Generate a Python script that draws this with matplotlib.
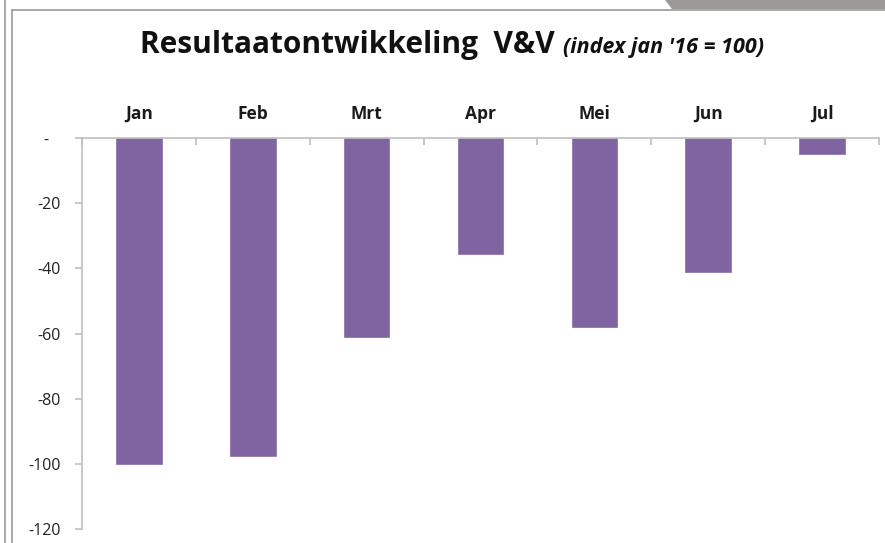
import matplotlib
matplotlib.use("Agg")
import matplotlib.pyplot as plt
from matplotlib.patches import Polygon
from matplotlib.lines import Line2D
import numpy as np

categories = ["Jan", "Feb", "Mrt", "Apr", "Mei", "Jun", "Jul"]
values = [-100, -97.5, -61, -35.5, -58, -41, -5]
yticks = [0, -20, -40, -60, -80, -100, -120]
ytick_labels = ["-   ", "-20", "-40", "-60", "-80", "-100", "-120"]

plt.rcParams['font.family'] = ['Open Sans', 'DejaVu Sans']

W, H = 885, 543
fig = plt.figure(figsize=(W/100, H/100), dpi=100)
fig.patch.set_facecolor("white")

# frame decorations
fig.add_artist(Line2D([5/W, 5/W], [0, 1], color="#9a9a9a", lw=1.2))
fig.add_artist(Line2D([12/W, 12/W], [0, 1-10/H], color="#9a9a9a", lw=1.2))
fig.add_artist(Line2D([12/W, 1], [1-10/H, 1-10/H], color="#9a9a9a", lw=1.2))
fig.add_artist(Polygon([[665/W, 1], [1, 1], [1, 1-9/H], [672/W, 1-9/H]],
                       closed=True, facecolor="#9b9898", edgecolor="none"))

ax = fig.add_axes([82/W, 1-529/H, (879-82)/W, (529-138)/H])
x = np.arange(len(categories))
ax.bar(x, values, width=0.4, color="#8064A2", edgecolor="#8f78b0", linewidth=0.6)
ax.set_xlim(-0.5, len(categories)-0.5)
ax.set_ylim(-120, 0)

for s in ["right", "bottom"]:
    ax.spines[s].set_visible(False)
for s in ["top", "left"]:
    ax.spines[s].set_color("#BFBFBF")
    ax.spines[s].set_linewidth(1.2)

ax.xaxis.tick_top()
ax.set_xticks(x)
ax.set_xticklabels(categories, fontsize=12.5, fontweight="bold", color="#1a1a1a")
ax.tick_params(axis="x", which="major", length=0, pad=11)
ax.set_xticks(np.arange(len(categories)+1)-0.5, minor=True)
ax.tick_params(axis="x", which="minor", direction="in", length=5, color="#BFBFBF", width=1.2)

ax.set_yticks(yticks)
ax.set_yticklabels(ytick_labels, fontsize=11.5, color="#222222")
ax.tick_params(axis="y", length=5, color="#BFBFBF", width=1.2, pad=10)

fig.text(140/W, 1-45/H, "Resultaatontwikkeling  V&V", fontsize=21.5, fontweight="bold",
         ha="left", va="center", color="#111111")
fig.text(563/W, 1-47/H, "(index jan '16 = 100)", fontsize=15.5, fontweight="bold",
         style="italic", ha="left", va="center", color="#111111")

fig.savefig("out.png", dpi=100)
